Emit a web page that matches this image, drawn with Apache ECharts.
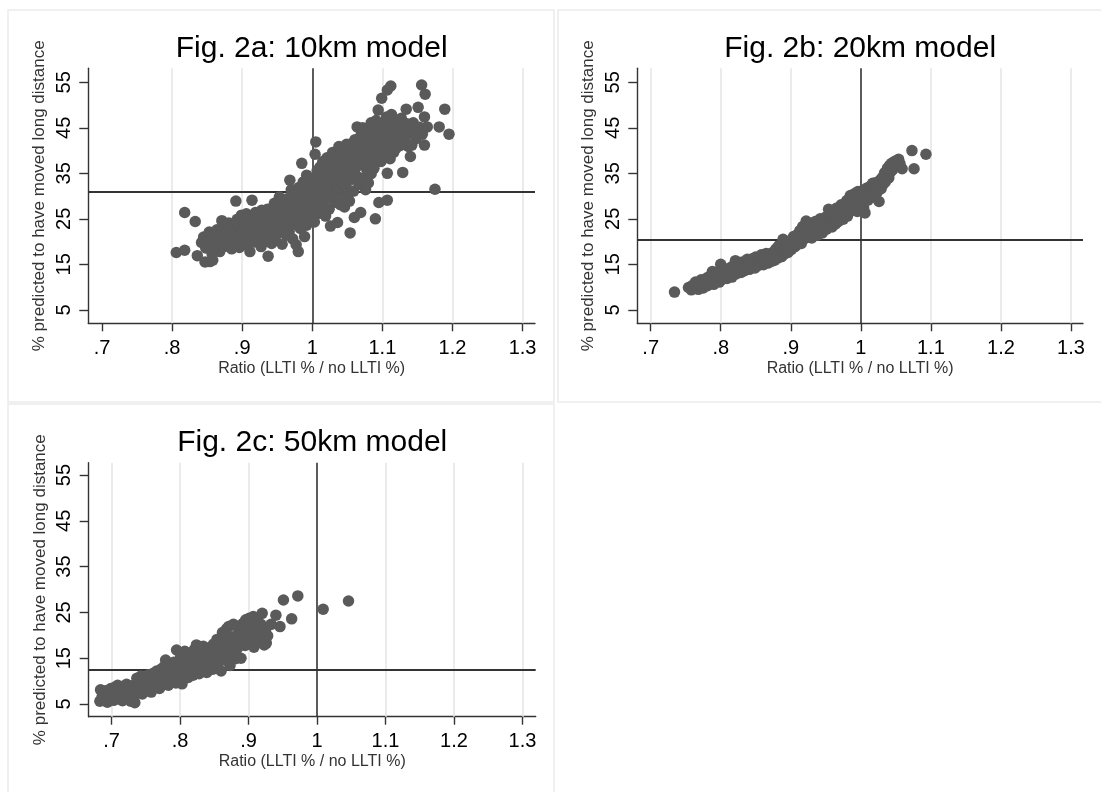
<!DOCTYPE html>
<html>
<head>
<meta charset="utf-8">
<script src="https://cdn.jsdelivr.net/npm/echarts@6/dist/echarts.min.js"></script>
<style>
  html, body { margin: 0; padding: 0; background: #ffffff; }
  #chart { width: 1101px; height: 792px; }
</style>
</head>
<body>
<div id="chart"></div>
<script>
// Tick values and labels shared by the three panels
const xTickValues = [0.7, 0.8, 0.9, 1, 1.1, 1.2, 1.3];
const xTickLabels = ['.7', '.8', '.9', '1', '1.1', '1.2', '1.3'];
const yTickValues = [5, 15, 25, 35, 45, 55];
const yTickLabels = ['5', '15', '25', '35', '45', '55'];

const panelTitles = ['Fig. 2a: 10km model', 'Fig. 2b: 20km model', 'Fig. 2c: 50km model'];
const xTitle = 'Ratio (LLTI % / no LLTI %)';
const yTitle = '% predicted to have moved long distance';

// Reference lines: ratio of 1 and the mean predicted percentage of each model
const refRatio = 1;
const refPct = [30.9, 20.3, 12.5];

// Light vertical grid lines drawn in each panel
const gridRatios10km = [0.8, 0.9, 1.1, 1.2, 1.3];
const gridRatios20km = [0.7, 0.8, 0.9, 1.1, 1.2, 1.3];
const gridRatios50km = [0.7, 0.8, 0.9, 1.1, 1.2, 1.3];

// [ratio, % predicted to have moved long distance] — 10km model
const points10km = [
  [0.806,17.6],[0.818,18.1],[0.818,26.4],[0.833,24.4],[0.836,16.9],[0.847,15.5],[0.854,15.6],[0.858,15.9],
  [0.842,19.8],[0.845,21.0],[0.848,18.6],[0.851,20.4],[0.853,22.1],[0.855,19.2],[0.857,17.4],[0.859,21.6],
  [0.861,20.0],[0.862,18.2],[0.864,22.6],[0.866,19.6],[0.868,17.8],[0.869,21.2],[0.871,24.6],[0.872,20.6],
  [0.874,18.9],[0.876,23.1],[0.878,21.7],[0.879,19.4],[0.865,20.7],[0.875,21.0],[0.885,22.1],
  [0.881,24.1],[0.882,22.4],[0.884,20.2],[0.885,18.4],[0.887,23.6],[0.888,21.1],[0.889,19.1],[0.891,28.9],
  [0.892,22.8],[0.893,24.9],[0.894,20.6],[0.896,18.7],[0.897,23.4],[0.898,21.9],[0.899,25.8],[0.900,22.0],
  [0.901,20.1],[0.902,22.3],[0.904,24.4],[0.905,19.3],[0.906,26.1],[0.908,21.4],[0.909,23.2],[0.911,17.8],
  [0.912,25.1],[0.913,20.7],[0.914,29.1],[0.915,22.6],[0.917,24.0],[0.918,19.9],[0.919,26.4],[0.921,21.8],
  [0.922,23.5],[0.923,20.4],[0.925,25.4],[0.926,22.1],[0.927,18.9],[0.928,26.9],[0.929,23.9],[0.910,21.6],
  [0.920,22.9],[0.930,22.6],[0.940,23.1],
  [0.931,21.2],[0.932,24.7],[0.934,22.9],[0.935,20.1],[0.936,27.1],[0.937,16.8],[0.938,23.6],[0.939,25.6],
  [0.941,21.7],[0.942,19.6],[0.943,24.2],[0.944,26.8],[0.945,22.4],[0.946,28.4],[0.947,20.8],[0.948,25.0],
  [0.949,23.3],[0.951,27.6],[0.952,21.9],[0.953,29.8],[0.954,24.6],[0.955,22.7],[0.956,26.3],[0.957,19.4],
  [0.958,28.2],[0.959,25.3],[0.951,24.1],[0.958,23.0],
  [0.961,23.1],[0.962,27.4],[0.963,21.4],[0.964,29.4],[0.965,24.9],[0.966,26.6],[0.967,22.2],[0.968,33.5],
  [0.969,28.6],[0.970,31.4],[0.971,25.7],[0.972,20.6],[0.973,27.9],[0.974,23.8],[0.975,30.2],[0.976,26.1],
  [0.977,19.3],[0.978,28.9],[0.979,24.4],[0.980,17.8],[0.981,31.9],[0.982,27.1],[0.983,22.9],[0.984,29.7],
  [0.985,37.2],[0.986,25.5],[0.987,33.1],[0.988,28.1],[0.989,21.1],[0.990,30.7],[0.991,26.8],[0.992,34.6],
  [0.993,24.1],[0.994,29.2],[0.995,31.8],[0.996,27.6],[0.997,25.0],[0.998,32.6],[0.999,29.9],
  [0.962,25.8],[0.966,24.0],[0.969,26.2],[0.974,28.1],[0.977,25.2],[0.979,30.6],[0.983,26.3],[0.986,28.9],
  [0.989,27.4],[0.992,23.6],[0.996,29.4],[0.999,26.1],
  [1.001,27.3],[1.002,33.9],[1.003,24.3],[1.004,39.2],[1.005,41.9],[1.006,30.4],[1.007,35.6],[1.008,28.4],
  [1.009,32.2],[1.010,26.2],[1.011,36.4],[1.012,30.9],[1.013,34.1],[1.014,27.9],[1.015,37.6],[1.016,31.6],
  [1.017,29.1],[1.018,33.6],[1.019,25.6],[1.020,35.1],[1.021,38.4],[1.022,30.1],[1.023,32.9],[1.024,27.1],
  [1.025,36.8],[1.026,23.4],[1.027,34.6],[1.028,31.2],[1.029,39.6],
  [1.003,29.6],[1.006,32.9],[1.009,30.1],[1.012,28.0],[1.016,34.7],[1.019,31.4],[1.022,36.0],[1.026,33.2],
  [1.029,30.6],
  [1.031,28.6],[1.032,33.4],[1.033,36.1],[1.034,30.6],[1.035,38.8],[1.036,24.2],[1.037,34.9],[1.038,40.9],
  [1.039,31.9],[1.040,28.1],[1.041,37.3],[1.042,33.0],[1.043,35.8],[1.044,29.6],[1.045,39.9],[1.046,27.6],
  [1.047,36.6],[1.048,32.4],[1.049,41.4],[1.050,34.4],[1.051,30.3],[1.052,38.1],[1.053,28.9],[1.054,21.9],
  [1.055,35.4],[1.056,40.4],[1.057,33.7],[1.058,37.9],[1.059,31.1],
  [1.033,38.3],[1.036,35.5],[1.039,33.8],[1.043,38.0],[1.046,36.1],[1.049,39.1],[1.053,37.0],[1.057,41.6],
  [1.060,25.3],[1.061,42.4],[1.062,36.2],[1.063,39.3],[1.064,45.2],[1.065,34.2],[1.066,41.1],[1.067,32.6],
  [1.068,38.6],[1.069,26.4],[1.070,43.6],[1.071,36.9],[1.072,40.6],[1.073,33.8],[1.074,44.4],[1.075,38.9],
  [1.076,31.4],[1.077,42.1],[1.078,35.6],[1.079,39.8],[1.080,32.9],[1.081,44.9],[1.082,37.4],[1.083,41.6],
  [1.084,34.9],[1.085,43.1],[1.086,38.3],[1.087,40.2],[1.088,36.1],
  [1.061,39.6],[1.064,37.8],[1.068,42.8],[1.072,45.0],[1.076,40.4],[1.080,43.2],[1.084,46.1],[1.088,42.4],
  [1.090,25.0],[1.091,46.6],[1.092,42.6],[1.093,39.4],[1.094,48.9],[1.095,28.6],[1.096,44.1],[1.097,41.2],
  [1.098,37.6],[1.099,51.5],[1.100,43.9],[1.101,40.6],[1.102,46.1],[1.103,38.9],[1.104,44.6],[1.105,42.1],
  [1.106,47.4],[1.107,35.0],[1.107,29.1],[1.107,53.3],[1.108,40.1],[1.109,45.6],[1.110,43.2],[1.111,38.2],
  [1.112,54.2],[1.113,47.9],[1.114,41.6],[1.115,44.9],[1.116,39.6],[1.117,46.4],[1.118,42.9],[1.119,40.4],
  [1.092,44.7],[1.096,45.8],[1.100,41.8],[1.104,42.9],[1.110,40.9],[1.115,46.8],[1.120,44.0],
  [1.121,45.6],[1.123,43.4],[1.125,41.1],[1.127,47.1],[1.129,35.2],[1.130,44.2],[1.132,42.4],[1.134,49.1],
  [1.135,45.9],[1.137,40.9],[1.138,43.8],[1.140,38.7],[1.142,41.2],[1.144,46.1],[1.146,44.6],[1.148,42.6],
  [1.151,49.5],[1.153,45.1],[1.156,54.4],[1.157,43.6],[1.160,47.4],[1.160,41.2],[1.161,52.4],[1.164,45.2],
  [1.175,31.5],[1.181,45.2],[1.189,49.1],[1.195,43.6]
];

// [ratio, % predicted to have moved long distance] — 20km model
const points20km = [
  [0.734,8.9],
  [0.754,9.9],[0.758,9.4],[0.760,10.4],[0.762,9.7],[0.764,11.1],[0.766,10.2],[0.768,9.5],[0.770,10.8],
  [0.772,11.6],[0.774,10.1],[0.775,9.8],[0.777,11.2],[0.778,10.6],[0.780,12.0],
  [0.781,10.3],[0.783,11.5],[0.784,12.3],[0.786,10.9],[0.787,11.8],[0.788,13.4],[0.789,12.6],[0.790,10.6],
  [0.791,11.3],[0.792,12.9],[0.794,11.9],[0.795,13.2],[0.797,12.4],[0.798,11.1],[0.799,13.8],[0.800,15.0],
  [0.801,12.7],[0.802,11.7],[0.803,13.4],[0.805,12.2],[0.806,14.0],[0.808,12.9],[0.809,11.9],
  [0.811,13.6],[0.812,12.5],[0.814,14.3],[0.815,13.1],[0.816,12.2],[0.818,14.7],[0.819,13.5],[0.821,15.8],
  [0.822,12.9],[0.823,14.1],[0.825,15.2],[0.826,13.7],[0.828,14.6],[0.829,13.2],[0.831,15.5],[0.832,14.2],
  [0.834,13.6],[0.835,15.1],[0.837,14.5],[0.838,16.1],[0.840,14.9],[0.841,13.9],[0.843,15.6],[0.844,14.4],
  [0.846,16.3],[0.847,15.0],[0.849,14.2],
  [0.850,16.6],[0.852,15.4],[0.853,14.7],[0.855,16.0],[0.856,15.2],[0.858,17.1],[0.859,15.8],[0.861,14.9],
  [0.862,16.7],[0.864,15.6],[0.865,17.4],[0.867,16.2],[0.868,15.3],[0.870,17.0],[0.871,16.4],[0.873,15.7],
  [0.874,17.6],[0.876,16.8],[0.877,15.9],[0.879,18.4],[0.880,17.2],
  [0.882,16.4],[0.883,19.1],[0.885,17.7],[0.886,18.6],[0.887,16.7],[0.889,20.5],[0.890,18.1],[0.891,17.3],
  [0.893,19.4],[0.894,18.6],[0.896,17.6],[0.897,19.8],[0.898,18.9],[0.900,20.2],[0.901,18.3],[0.903,19.6],
  [0.904,21.1],[0.906,18.9],[0.907,20.4],[0.909,19.3],
  [0.910,21.6],[0.912,20.0],[0.913,22.4],[0.915,19.6],[0.916,21.2],[0.917,23.3],[0.919,20.6],[0.920,22.1],
  [0.922,24.5],[0.923,20.9],[0.924,23.0],[0.926,21.6],[0.927,24.1],[0.929,22.4],[0.930,20.8],[0.932,23.6],
  [0.933,21.9],[0.935,24.4],[0.936,22.8],[0.938,21.4],[0.939,23.9],
  [0.941,22.3],[0.942,25.0],[0.944,23.4],[0.945,21.9],[0.947,24.6],[0.948,23.0],[0.950,25.4],[0.951,22.7],
  [0.953,24.1],[0.954,27.1],[0.955,23.6],[0.957,25.9],[0.958,24.6],[0.959,23.2],[0.961,26.4],[0.962,25.1],
  [0.964,23.9],[0.965,27.3],[0.966,25.7],[0.968,24.4],[0.969,26.8],
  [0.971,25.2],[0.972,28.1],[0.974,26.3],[0.975,24.9],[0.977,27.5],[0.978,26.0],[0.980,29.0],[0.981,25.6],
  [0.983,27.9],[0.984,26.6],[0.985,30.1],[0.987,28.4],[0.988,26.9],[0.989,29.6],[0.991,27.5],[0.992,30.6],
  [0.993,28.6],[0.995,26.6],[0.996,31.0],[0.997,29.2],[0.999,27.8],
  [1.000,30.4],[1.002,28.7],[1.003,31.2],[1.004,27.4],[1.006,26.3],[1.007,29.8],[1.008,31.7],[1.010,29.1],
  [1.011,30.6],[1.013,32.1],[1.014,29.6],[1.016,31.1],[1.017,32.8],[1.019,30.3],[1.020,31.8],[1.022,33.0],
  [1.023,30.8],[1.025,32.4],[1.026,28.8],[1.028,33.6],[1.029,31.6],
  [1.031,34.1],[1.032,32.6],[1.034,35.1],[1.035,33.1],[1.037,34.6],[1.038,36.1],[1.040,34.0],[1.041,36.7],
  [1.043,35.4],[1.044,37.2],[1.046,35.9],[1.048,37.6],[1.050,36.6],[1.052,37.9],[1.054,38.1],[1.056,37.1],
  [1.059,36.0],
  [1.073,40.0],[1.076,36.0],[1.093,39.2]
];

// [ratio, % predicted to have moved long distance] — 50km model
const points50km = [
  [0.683,5.6],[0.684,8.1],[0.686,6.4],[0.687,7.3],[0.689,5.9],[0.691,7.9],[0.692,6.8],[0.694,5.4],
  [0.696,7.5],[0.698,6.2],[0.699,8.4],[0.701,7.0],[0.703,5.8],[0.704,8.6],[0.706,6.6],[0.707,7.7],
  [0.709,9.1],[0.711,6.1],[0.712,8.2],[0.714,7.2],[0.716,5.7],[0.717,8.8],[0.719,6.9],
  [0.721,7.8],[0.722,9.3],[0.724,6.4],[0.725,8.5],[0.727,7.4],[0.728,5.6],[0.730,9.0],[0.731,7.9],
  [0.733,6.7],[0.734,5.3],[0.736,8.7],[0.737,10.6],[0.739,7.6],[0.740,9.6],[0.742,8.2],[0.743,11.1],
  [0.745,7.2],[0.746,9.9],[0.748,8.8],[0.749,10.8],[0.751,7.9],[0.752,9.4],[0.754,11.4],[0.755,8.5],
  [0.757,10.2],[0.758,7.6],
  [0.760,9.8],[0.761,11.7],[0.763,8.9],[0.764,10.6],[0.766,12.2],[0.767,9.3],[0.769,11.1],[0.770,8.4],
  [0.772,10.3],[0.773,12.7],[0.775,9.7],[0.776,11.6],[0.777,13.2],[0.779,14.6],[0.780,10.9],[0.782,12.4],
  [0.783,9.1],[0.785,13.6],[0.786,11.4],[0.788,10.1],[0.789,12.9],[0.791,14.1],[0.792,11.8],[0.794,9.6],
  [0.795,16.8],[0.797,13.1],[0.798,10.6],
  [0.800,12.1],[0.801,15.4],[0.803,9.4],[0.804,13.8],[0.806,11.2],[0.807,16.5],[0.809,12.7],[0.810,14.6],
  [0.812,10.8],[0.813,13.3],[0.815,15.9],[0.816,12.2],[0.818,14.2],[0.819,11.3],[0.821,16.9],[0.822,13.6],
  [0.824,17.9],[0.825,12.8],[0.827,15.1],[0.828,11.6],[0.830,14.4],[0.831,16.3],[0.833,12.4],[0.834,17.6],
  [0.836,13.9],[0.837,15.6],[0.839,11.9],
  [0.840,14.8],[0.842,16.8],[0.843,13.1],[0.845,17.4],[0.846,15.2],[0.848,12.6],[0.849,18.1],[0.851,14.1],
  [0.852,16.2],[0.854,19.1],[0.855,13.7],[0.857,15.7],[0.859,17.9],[0.860,12.2],[0.862,20.6],[0.863,16.6],
  [0.865,14.6],[0.866,18.8],[0.868,21.4],[0.869,15.3],[0.871,21.9],[0.872,17.6],[0.873,13.4],[0.875,19.6],
  [0.876,16.1],[0.878,22.4],[0.879,18.3],
  [0.880,16.4],[0.881,14.9],[0.883,20.1],[0.884,17.2],[0.886,21.6],[0.887,19.0],[0.889,15.0],[0.890,18.6],
  [0.892,22.6],[0.893,20.6],[0.895,17.8],[0.896,23.4],[0.898,19.7],[0.899,21.1],[0.901,23.7],[0.902,18.9],
  [0.904,20.4],[0.905,22.2],[0.907,24.1],[0.908,17.4],[0.910,21.4],[0.911,19.6],[0.913,23.3],[0.915,20.6],
  [0.916,18.7],[0.918,22.4],
  [0.920,24.8],[0.921,19.4],[0.923,17.9],[0.925,21.2],[0.926,18.3],[0.928,19.9],[0.933,22.4],[0.940,24.4],
  [0.946,21.9],[0.951,27.7],[0.963,23.6],[0.972,28.6],[1.009,25.7],[1.046,27.5]
];

const pointSets = [points10km, points20km, points50km];
const gridRatioSets = [gridRatios10km, gridRatios20km, gridRatios50km];

// Plot-area placement and axis extents for each panel
const layout = [
  { left: 88.3, top: 68.3, width: 446.7, height: 255, xMin: 0.6805, xMax: 1.3177, yMin: 2.04, yMax: 58.08 },
  { left: 637.3, top: 68.3, width: 445.7, height: 255, xMin: 0.6809, xMax: 1.3172, yMin: 2.04, yMax: 58.08 },
  { left: 88.7, top: 462.7, width: 447, height: 254, xMin: 0.6667, xMax: 1.3193, yMin: 2.23, yMax: 57.69 }
];

const FONT = 'Liberation Sans, Arial, Helvetica, sans-serif';
const INK = '#333333';
const DOT = '#5a5a5a';

const fmt = (values, labels) => (v) => {
  const i = values.findIndex((t) => Math.abs(t - v) < 1e-9);
  return i >= 0 ? labels[i] : '';
};

const grids = [], xAxes = [], yAxes = [], series = [], graphics = [];

layout.forEach((p, i) => {
  grids.push({ left: p.left, top: p.top, width: p.width, height: p.height, containLabel: false });

  xAxes.push({
    type: 'value', gridIndex: i, min: p.xMin, max: p.xMax,
    axisLine: { show: true, onZero: false, lineStyle: { color: INK, width: 1.4 } },
    axisTick: { show: true, customValues: xTickValues, length: 8, lineStyle: { color: INK, width: 1.4 } },
    axisLabel: {
      customValues: xTickValues, formatter: fmt(xTickValues, xTickLabels),
      fontSize: 20, color: '#000', fontFamily: FONT, margin: 15
    },
    splitLine: { show: false },
    name: xTitle, nameLocation: 'middle', nameGap: 37,
    nameTextStyle: { fontSize: 16, color: INK, fontFamily: FONT }
  });

  yAxes.push({
    type: 'value', gridIndex: i, min: p.yMin, max: p.yMax,
    axisLine: { show: true, onZero: false, lineStyle: { color: INK, width: 1.4 } },
    axisTick: { show: true, customValues: yTickValues, length: 9, lineStyle: { color: INK, width: 1.4 } },
    axisLabel: {
      customValues: yTickValues, formatter: fmt(yTickValues, yTickLabels), rotate: 90,
      fontSize: 20, color: '#000', fontFamily: FONT, margin: 14
    },
    splitLine: { show: false },
    name: yTitle, nameLocation: 'middle', nameGap: 40,
    nameTextStyle: { fontSize: 17, color: INK, fontFamily: FONT }
  });

  const guideLines = gridRatioSets[i].map((r) => ({
    xAxis: r, lineStyle: { color: '#e6e6e6', width: 1.6, type: 'solid' }
  }));
  guideLines.push({ xAxis: refRatio, lineStyle: { color: INK, width: 1.6, type: 'solid' } });
  guideLines.push({ yAxis: refPct[i], lineStyle: { color: INK, width: 1.8, type: 'solid' } });

  series.push({
    type: 'scatter', xAxisIndex: i, yAxisIndex: i, z: 3,
    data: pointSets[i], symbol: 'circle', symbolSize: 11.5,
    itemStyle: { color: DOT, opacity: 1 },
    emphasis: { disabled: true },
    markLine: {
      silent: true, z: 1, symbol: ['none', 'none'], label: { show: false },
      emphasis: { disabled: true }, animation: false,
      data: guideLines
    }
  });

  graphics.push({
    type: 'text', z: 10,
    x: p.left + p.width / 2, y: p.top - 20,
    style: {
      text: panelTitles[i], fill: '#000', font: '30px ' + FONT,
      textAlign: 'center', textVerticalAlign: 'middle'
    }
  });
});

// Faint frames around the three panels
[[8, 10, 546, 392], [558, 10, 545, 392], [8, 404, 546, 392]].forEach(([x, y, w, h]) => {
  graphics.push({
    type: 'rect', z: 0, shape: { x: x, y: y, width: w, height: h },
    style: { fill: 'none', stroke: '#ebebeb', lineWidth: 1.5 }
  });
});

const chart = echarts.init(document.getElementById('chart'), null, { renderer: 'canvas' });
chart.setOption({
  animation: false,
  backgroundColor: '#ffffff',
  grid: grids,
  xAxis: xAxes,
  yAxis: yAxes,
  series: series,
  graphic: graphics
});
</script>
</body>
</html>
